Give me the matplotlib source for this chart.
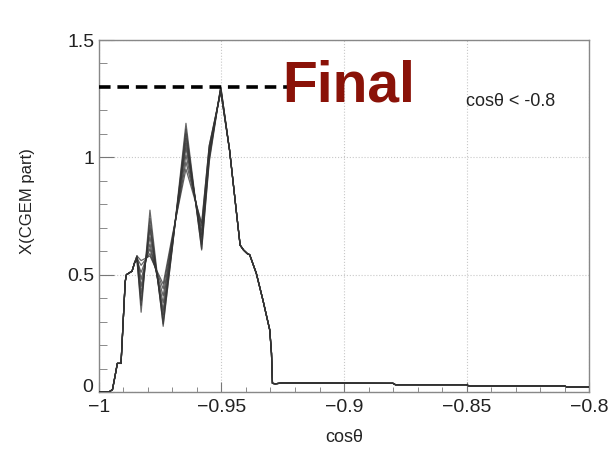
import matplotlib.pyplot as plt
from matplotlib.ticker import MultipleLocator
from matplotlib.transforms import ScaledTranslation

plt.rcParams['font.family'] = ['Liberation Sans', 'DejaVu Sans']

# common rising edge (all curves identical here)
x_rise = [-1.0, -0.996, -0.9945, -0.9935, -0.9925, -0.991, -0.9893, -0.9888, -0.9865, -0.9855]
y_rise = [0.0, 0.0, 0.01, 0.065, 0.122, 0.122, 0.47, 0.50, 0.515, 0.55]

# region where the variations differ
x_bundle = [-0.9845, -0.9828, -0.9792, -0.9738, -0.9700, -0.9645, -0.9581, -0.9550, -0.9503]
bundle = [
    [0.57, 0.34, 0.775, 0.28, 0.62, 1.145, 0.605, 0.98, 1.30],
    [0.56, 0.37, 0.74, 0.29, 0.62, 1.12, 0.61, 0.99, 1.30],
    [0.57, 0.39, 0.71, 0.31, 0.63, 1.10, 0.63, 1.00, 1.30],
    [0.58, 0.42, 0.69, 0.33, 0.63, 1.08, 0.64, 1.01, 1.29],
    [0.57, 0.45, 0.66, 0.35, 0.64, 1.06, 0.66, 1.02, 1.29],
    [0.58, 0.48, 0.63, 0.38, 0.65, 1.04, 0.67, 1.03, 1.29],
    [0.56, 0.51, 0.61, 0.41, 0.65, 1.01, 0.69, 1.04, 1.28],
    [0.57, 0.54, 0.59, 0.44, 0.66, 0.98, 0.71, 1.05, 1.28],
    [0.58, 0.56, 0.58, 0.46, 0.67, 0.95, 0.72, 1.05, 1.28],
]

# common falling edge and tail
x_fall = [-0.9467, -0.9440, -0.9424, -0.9410, -0.9395, -0.9385, -0.9358, -0.9331, -0.9303,
          -0.9296, -0.9292, -0.9280, -0.9250, -0.8800, -0.8790, -0.8500, -0.8490, -0.8100,
          -0.8090, -0.8000]
y_fall = [1.03, 0.775, 0.626, 0.605, 0.59, 0.585, 0.506, 0.392, 0.264,
          0.165, 0.037, 0.035, 0.039, 0.037, 0.031, 0.031, 0.026, 0.026,
          0.021, 0.021]

xticks = [-1, -0.95, -0.9, -0.85, -0.8]
xticklabels = ['\u22121', '\u22120.95', '\u22120.9', '\u22120.85', '\u22120.8']
yticks = [0, 0.5, 1, 1.5]
yticklabels = ['0', '0.5', '1', '1.5']

fig = plt.figure(figsize=(6.08, 4.51), dpi=100)
ax = fig.add_axes([0.1628, 0.1308, 0.806, 0.7805])

for ys in bundle:
    ax.plot(x_rise + x_bundle + x_fall, y_rise + ys + y_fall,
            color='#333333', lw=0.9, alpha=0.75, zorder=3)

ax.plot([-1.0, -0.918], [1.3, 1.3], color='black', lw=2.6, dashes=(3.2, 1.9),
        zorder=4, clip_on=False)

ax.set_xlim(-1, -0.8)
ax.set_ylim(0, 1.5)
ax.set_xticks(xticks)
ax.set_xticklabels(xticklabels)
ax.set_yticks(yticks)
ax.set_yticklabels(yticklabels)
ax.xaxis.set_minor_locator(MultipleLocator(0.01))
ax.yaxis.set_minor_locator(MultipleLocator(0.1))

ax.tick_params(axis='both', which='both', direction='in', colors='#777777',
               labelcolor='#222222', labelsize=14)
ax.tick_params(axis='x', which='major', length=7.2, pad=5)
ax.tick_params(axis='x', which='minor', length=3.6)
ax.tick_params(axis='y', which='major', length=11, pad=3)
ax.tick_params(axis='y', which='minor', length=5.5)

# lift the "0" a little, like ROOT does, so it clears the "-1"
zero = ax.yaxis.get_major_ticks()[0].label1
zero.set_transform(zero.get_transform() + ScaledTranslation(-1 / 72, 5 / 72, fig.dpi_scale_trans))

ax.grid(True, which='major', color='#c8c8c8', linestyle=':', linewidth=0.8, zorder=0)
for s in ax.spines.values():
    s.set_color('#888888')
    s.set_linewidth(1.0)

ax.set_xlabel('cos\u03b8', fontsize=13, color='#222222')
ax.xaxis.set_label_coords(0.5, -0.105)
ax.set_ylabel('X(CGEM part)', fontsize=12, color='#222222')
ax.yaxis.set_label_coords(-0.13, 0.543)

fig.text(0.464, 0.7745, 'Final', fontsize=41, fontweight='bold', color='#8a1208',
         va='baseline', ha='left', zorder=10)
fig.text(0.766, 0.765, 'cos\u03b8 < -0.8', fontsize=13, color='#222222',
         va='baseline', ha='left')

plt.savefig('out.png', dpi=100)
